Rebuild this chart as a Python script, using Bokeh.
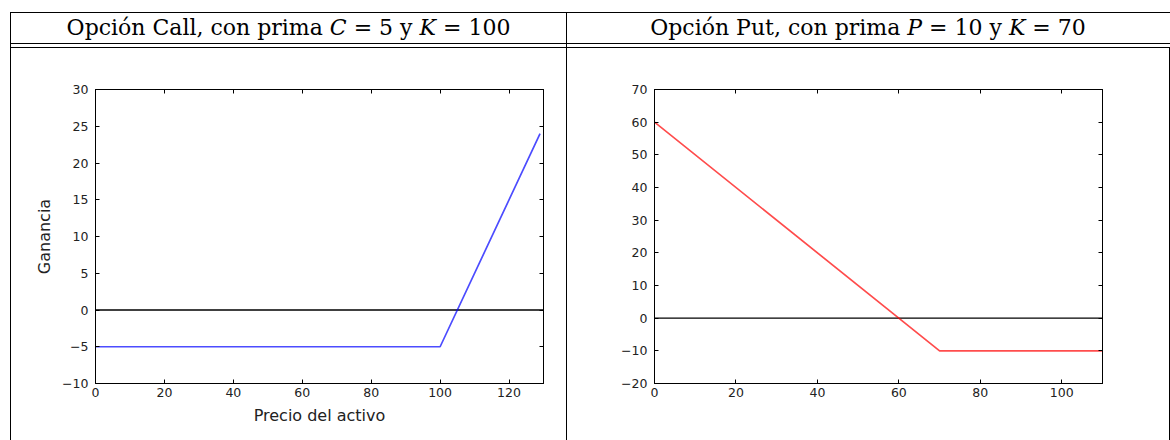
from bokeh.plotting import figure
from bokeh.models import Range1d, LinearAxis, FixedTicker, Div, Spacer
from bokeh.layouts import column, row
from bokeh.embed import file_html
from bokeh.resources import INLINE

# ---- data ----
call_price = [0, 100, 129]
call_profit = [-5, -5, 24]
put_price = [0, 70, 110]
put_profit = [60, -10, -10]

call_xticks = [0, 20, 40, 60, 80, 100, 120]
call_yticks = [-10, -5, 0, 5, 10, 15, 20, 25, 30]
put_xticks = [0, 20, 40, 60, 80, 100]
put_yticks = [-20, -10, 0, 10, 20, 30, 40, 50, 60, 70]

call_title = "Opción Call, con prima <i>C</i> = 5 y <i>K</i> = 100"
put_title = "Opción Put, con prima <i>P</i> = 10 y <i>K</i> = 70"
call_xlabel = "Precio del activo"
call_ylabel = "Ganancia"

TICK_FONT = "12.5px"
LABEL_FONT = "16px"
TXT = "#222222"


def minus(v):
    return ("\u2212" + str(-v)) if v < 0 else str(v)


def make_plot(xs, ys, xr, yr, xt, yt, color, w, h, lb, rb, tb, bb, xlabel=None, ylabel=None):
    p = figure(width=w, height=h, x_range=Range1d(*xr), y_range=Range1d(*yr),
               output_backend="svg", toolbar_location=None,
               x_axis_location=None, y_axis_location=None,
               min_border_left=lb, min_border_right=rb, min_border_top=tb, min_border_bottom=bb)
    p.grid.visible = False
    p.outline_line_color = "black"
    p.outline_line_width = 1
    p.background_fill_color = "white"
    p.border_fill_color = "white"

    def style(ax, ticks, show):
        ax.ticker = FixedTicker(ticks=ticks)
        ax.major_tick_in = 4
        ax.major_tick_out = 0
        ax.minor_tick_line_color = None
        ax.major_tick_line_color = "black"
        ax.axis_line_color = "black"
        ax.major_label_text_font = "DejaVu Sans"
        ax.major_label_text_font_size = TICK_FONT
        ax.major_label_overrides = {t: minus(t) for t in ticks}
        if show:
            ax.major_label_text_color = TXT
        else:
            ax.major_label_text_color = None
            ax.major_label_standoff = 0

    bottom = LinearAxis()
    style(bottom, xt, True)
    bottom.major_label_standoff = 4
    left = LinearAxis()
    style(left, yt, True)
    left.major_label_standoff = 7
    top = LinearAxis()
    style(top, xt, False)
    right = LinearAxis()
    style(right, yt, False)
    for ax, lbl in ((bottom, xlabel), (left, ylabel)):
        if lbl:
            ax.axis_label = lbl
            ax.axis_label_text_font = "DejaVu Sans"
            ax.axis_label_text_font_size = LABEL_FONT
            ax.axis_label_text_font_style = "normal"
            ax.axis_label_text_color = TXT
    bottom.axis_label_standoff = 6
    left.axis_label_standoff = 5
    p.add_layout(bottom, "below")
    p.add_layout(left, "left")
    p.add_layout(top, "above")
    p.add_layout(right, "right")

    p.line([xr[0], xr[1]], [0, 0], line_color="black", line_width=1.3)
    p.line(xs, ys, line_color=color, line_alpha=0.7, line_width=1.7)
    return p


ROW_H = 392
p1 = make_plot(call_price, call_profit, (0, 130), (-10, 30), call_xticks, call_yticks,
               "blue", 555, ROW_H, 84, 23, 36, 57, call_xlabel, call_ylabel)
p2 = make_plot(put_price, put_profit, (0, 110), (-20, 70), put_xticks, put_yticks,
               "red", 602, ROW_H, 87, 67, 41, 53)

line = "position:absolute;background:#000;"
serif = "font-family:'DejaVu Serif',serif;font-size:22px;color:#000;white-space:nowrap;"
header_html = f"""
<div style="position:relative;width:1170px;height:48px;margin:0;padding:0;">
  <div style="{line}left:10px;top:12px;width:1160px;height:1px;"></div>
  <div style="{line}left:10px;top:43px;width:1160px;height:1px;"></div>
  <div style="{line}left:10px;top:47px;width:1160px;height:1px;"></div>
  <div style="{line}left:10px;top:12px;width:1px;height:36px;"></div>
  <div style="{line}left:566px;top:12px;width:1px;height:36px;"></div>
  <div style="position:absolute;left:11px;top:12px;width:555px;height:31px;line-height:31px;text-align:center;{serif}">{call_title}</div>
  <div style="position:absolute;left:567px;top:12px;width:602px;height:31px;line-height:31px;text-align:center;{serif}">{put_title}</div>
</div>
"""
header = Div(text=header_html, width=1170, height=48, styles={"margin": "0", "padding": "0"})


def vline():
    return Div(text="", width=1, height=ROW_H, styles={"background-color": "#000", "margin": "0", "padding": "0"})


body = row(Spacer(width=10, height=ROW_H), vline(), p1, vline(), p2, vline(), spacing=0)
layout = column(header, body, spacing=0)

open("out.html", "w").write(file_html(layout, INLINE))
